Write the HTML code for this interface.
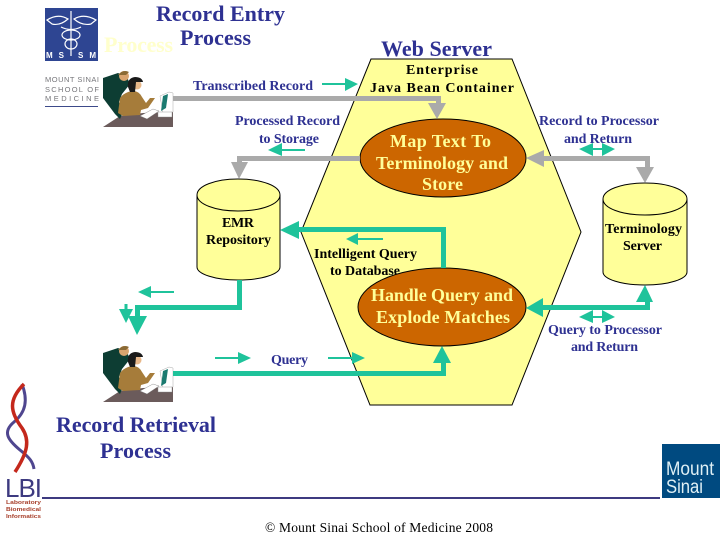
<!DOCTYPE html>
<html><head><meta charset="utf-8"><style>
html,body{margin:0;padding:0;background:#fff}
svg{display:block}
text{font-family:"Liberation Serif",serif;font-weight:bold;font-size:14px;fill:#2e3192}
.k{fill:#000}
.o{fill:#ffff99;font-size:18px}
.h{font-size:22px}
</style></head><body>
<svg width="720" height="540" viewBox="0 0 720 540" xmlns="http://www.w3.org/2000/svg">
<defs>
<g id="worker">
<path d="M0 57 L17 46 L40 43 L70 42 L70 57 Z" fill="#6b5b5b"/>
<path d="M0 8 L15 3 L24 7 L27 14 L19 24 L16 32 L20 42 L17 49 L12 44 L0 28 Z" fill="#0d3d33"/>
<circle cx="21" cy="6" r="5" fill="#d9a46f"/><path d="M15 5 Q20 -1 26 2 L23 5 Z" fill="#8a6a35"/>
<path d="M15 43 L17 28 Q21 22 30 21 Q36 21 39 27 L43 33 L47 28 L52 28 L45 38 L38 40 L37 45 L20 46 Z" fill="#a67c3a"/>
<circle cx="34" cy="15" r="4.500" fill="#e8b88a"/><path d="M25 17 Q24 8 32 7 Q39 7 40 12 L33 12 L32 22 L27 22 Z" fill="#1a1a1a"/>
<path d="M37 46 L50 39 L56 41 L44 49 Z" fill="#fff" stroke="#777" stroke-width=".4"/>
<path d="M57 26 L66 22 L70 23 L70 42 L60 43 Z" fill="#fff" stroke="#aaa" stroke-width=".5"/>
<path d="M60 26 L65 24 L63 38 L58 41 Z" fill="#1b7a70"/>
<rect x="55" y="42" width="14" height="5" fill="#fff" stroke="#888" stroke-width=".4"/>
</g>
</defs>

<!-- MSSM logo -->
<rect x="45" y="8" width="53" height="53" fill="#2e4592"/>
<g fill="none" stroke="#fff" stroke-width="1.2">
<path d="M71 11 V56"/>
<path d="M47 20 Q58 13 68 19 Q60 26 52 24 Z"/>
<path d="M96 20 Q84 13 74 19 Q82 26 91 24 Z"/>
<ellipse cx="71" cy="35" rx="9" ry="5"/>
<ellipse cx="71" cy="44" rx="6" ry="5"/>
<path d="M61 27 Q71 32 81 27"/>
</g>
<text x="46" y="58" style="font:bold 8px 'Liberation Sans',sans-serif;fill:#fff" textLength="50">MS   SM</text>
<text x="45" y="82" style="font:normal 7.500px 'Liberation Sans',sans-serif;fill:#77777b" textLength="54">MOUNT SINAI</text>
<text x="45" y="92" style="font:normal 7.500px 'Liberation Sans',sans-serif;fill:#77777b" textLength="54">SCHOOL OF</text>
<text x="45" y="101" style="font:normal 7.500px 'Liberation Sans',sans-serif;fill:#77777b" textLength="54">MEDICINE</text>
<rect x="45" y="106" width="53" height="1" fill="#3d4a8a"/>

<!-- Titles -->
<text x="156" y="21" class="h" textLength="129">Record Entry</text>
<text x="104" y="52" class="h" style="fill:#ffffcc" textLength="69">Process</text>
<text x="180" y="45" class="h" textLength="71">Process</text>
<text x="381" y="56" class="h" textLength="111">Web Server</text>

<!-- Hexagon -->
<polygon points="371,59 512,59 581,232 512,405 370,405 301,232" fill="#ffff99" stroke="#000" stroke-width="1"/>

<use href="#worker" x="103" y="70"/>
<use href="#worker" x="103" y="345"/>

<text x="193" y="90" textLength="120">Transcribed Record</text>
<text x="235" y="125" textLength="105">Processed Record</text>
<text x="259" y="143" textLength="60">to Storage</text>
<text x="406" y="74" class="k" textLength="72">Enterprise</text>
<text x="370" y="92" class="k" textLength="144">Java Bean Container</text>
<text x="539" y="125" textLength="120">Record to Processor</text>
<text x="564" y="143" textLength="68">and Return</text>
<text x="314" y="258" class="k" textLength="103">Intelligent Query</text>
<text x="330" y="275" class="k" textLength="70">to Database</text>

<!-- Ellipses -->
<ellipse cx="443" cy="158" rx="83" ry="39" fill="#cc6600" stroke="#000" stroke-width="1"/>
<ellipse cx="442" cy="307" rx="84" ry="39" fill="#cc6600" stroke="#000" stroke-width="1"/>
<text x="390" y="147" class="o" textLength="101">Map Text To</text>
<text x="376" y="169" class="o" textLength="132">Terminology and</text>
<text x="422" y="190" class="o" textLength="41">Store</text>
<text x="371" y="301" class="o" textLength="142">Handle Query and</text>
<text x="376" y="323" class="o" textLength="134">Explode Matches</text>

<!-- Cylinders -->
<path d="M197 195 V267 C197 274 215 280 238 280 C262 280 280 274 280 267 V195 C280 186 262 179 238 179 C215 179 197 186 197 195 C197 204 215 211 238 211 C262 211 280 204 280 195" fill="#ffff99" stroke="#000"/>
<path d="M603 199 V272 C603 279 621 285 645 285 C669 285 687 279 687 272 V199 C687 190 669 183 645 183 C621 183 603 190 603 199 C603 208 621 215 645 215 C669 215 687 208 687 199" fill="#ffff99" stroke="#000"/>
<text x="222" y="227" class="k" textLength="32">EMR</text>
<text x="206" y="244" class="k" textLength="65">Repository</text>
<text x="605" y="233" class="k" textLength="77">Terminology</text>
<text x="623" y="250" class="k" textLength="39">Server</text>

<!-- Grey connectors -->
<g fill="#aaaaaa">
<path d="M173 96 H441 V104 H436 V101 H173 Z"/>
<polygon points="428,103 446,103 437,119"/>
<path d="M360 156 H237 V164 H242 V161 H360 Z"/>
<polygon points="231,162 248,162 239,179"/>
<path d="M542 156 H650 V168 H645 V161 H542 Z"/>
<polygon points="526,158 544,150 544,167"/>
<polygon points="636,167 654,167 645,183"/>
</g>

<!-- Green connectors -->
<g fill="#1fc39b">
<polygon points="280,230 299,221 299,239"/>
<path d="M298 227 H446 V268 H441 V232 H298 Z"/>
<path d="M237 280 H242 V310 H140 V318 H135 V305 H237 Z"/>
<polygon points="128,316 147,316 137,335"/>
<rect x="124.500" y="304" width="3" height="6"/>
<polygon points="119,309 133,309 126,323"/>
<path d="M173 371 H441 V361 H446 V376 H173 Z"/>
<polygon points="433,363 451,363 442,346"/>
<path d="M542 305 H645 V300 H650 V310 H542 Z"/>
<polygon points="526,308 543,298 543,317"/>
<polygon points="636,302 653,302 645,285"/>

<!-- Small direction arrows -->
<path d="M322 83 H345 V78 L358 84 L345 91 V85 H322 Z"/>
<path d="M305 149 H282 V143 L268 150 L282 156 V151 H305 Z"/>
<path d="M383 238 H358 V233 L346 239 L358 245 V240 H383 Z"/>
<path d="M174 291 H151 V286 L138 292 L151 298 V293 H174 Z"/>
<path d="M215 357 H238 V352 L251 358 L238 364 V359 H215 Z"/>
<path d="M328 357 H352 V352 L365 358 L352 364 V359 H328 Z"/>
<path d="M579 149 L593 143 V148 H602 V143 L615 149 L602 156 V150 H593 V156 Z"/>
<path d="M579 317 L593 310 V316 H602 V310 L615 317 L602 323 V318 H593 V323 Z"/>
</g>

<text x="271" y="364" textLength="37">Query</text>
<text x="548" y="334" textLength="114">Query to Processor</text>
<text x="571" y="351" textLength="67">and Return</text>

<text x="56" y="432" class="h" textLength="160">Record Retrieval</text>
<text x="100" y="458" class="h" textLength="71">Process</text>

<!-- LBI logo -->
<path d="M22 384 C28 400 26 412 14 422 C2 432 8 440 20 450 C30 458 33 462 34 469" fill="none" stroke="#4f468f" stroke-width="3"/>
<path d="M24 384 C8 400 10 412 22 428 C30 440 28 452 15 472" fill="none" stroke="#c4281c" stroke-width="3.500"/>
<text x="5" y="497" style="font:normal 26px 'Liberation Sans',sans-serif;fill:#3d3a80" textLength="37">LBI</text>
<text x="6" y="504" style="font:bold 5.500px 'Liberation Sans',sans-serif;fill:#a8402c" textLength="35" lengthAdjust="spacingAndGlyphs">Laboratory</text>
<text x="6" y="511" style="font:bold 5.500px 'Liberation Sans',sans-serif;fill:#a8402c" textLength="35" lengthAdjust="spacingAndGlyphs">Biomedical</text>
<text x="6" y="518" style="font:bold 5.500px 'Liberation Sans',sans-serif;fill:#a8402c" textLength="35" lengthAdjust="spacingAndGlyphs">Informatics</text>

<rect x="42" y="497" width="618" height="2" fill="#3d3a80"/>

<!-- Mount Sinai logo -->
<rect x="662" y="444" width="58" height="54" fill="#004a80"/>
<text x="666" y="475" style="font:normal 19px 'Liberation Sans',sans-serif;fill:#dff0f5" textLength="48" lengthAdjust="spacingAndGlyphs">Mount</text>
<text x="666" y="493" style="font:normal 19px 'Liberation Sans',sans-serif;fill:#dff0f5" textLength="37" lengthAdjust="spacingAndGlyphs">Sinai</text>

<text x="265" y="532" style="font-weight:normal;font-size:13.500px;fill:#000" textLength="228">© Mount Sinai School of Medicine 2008</text>
</svg>
</body></html>
